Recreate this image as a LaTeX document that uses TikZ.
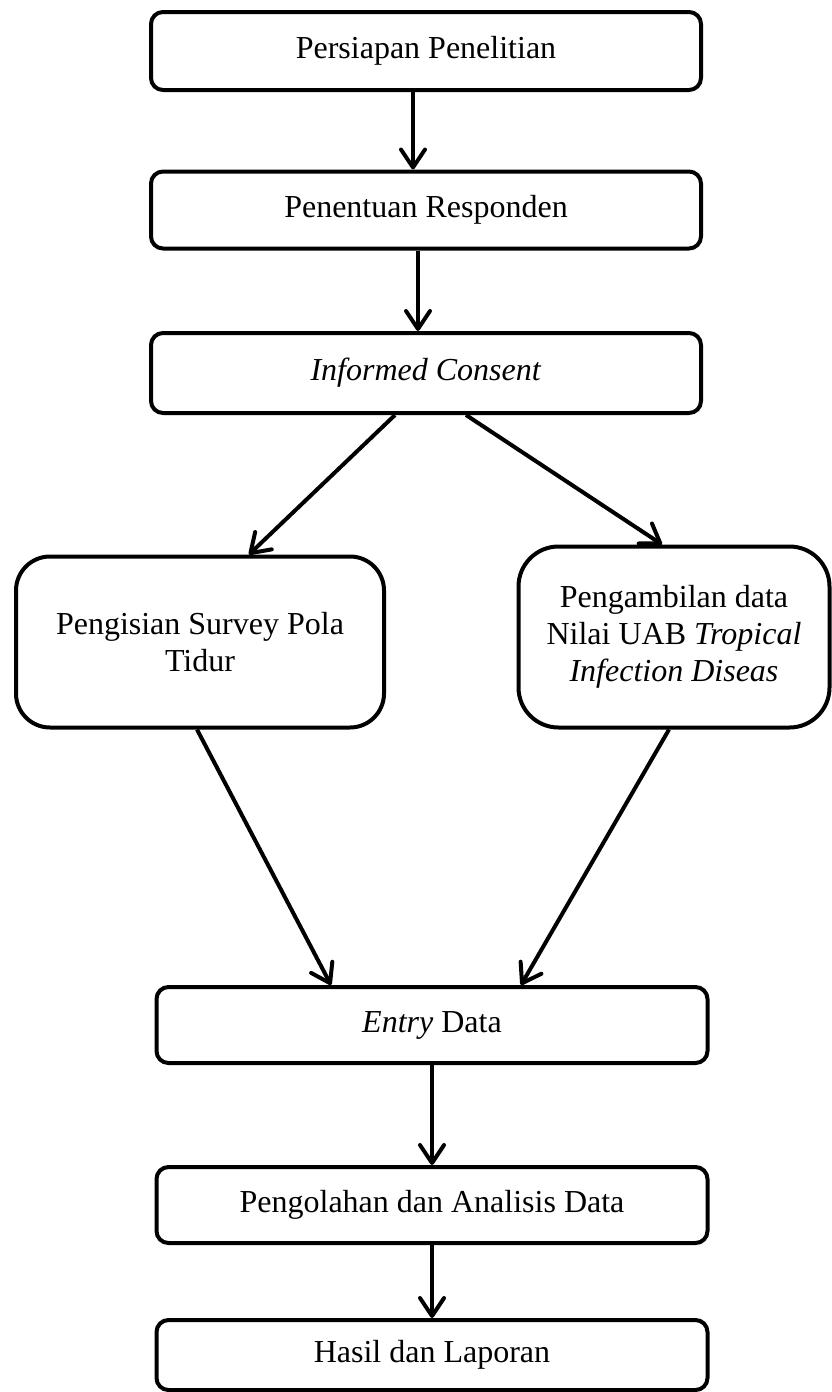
\documentclass[tikz,border=0pt]{standalone}
\usepackage{fontspec}
\setmainfont{Liberation Serif}
\usetikzlibrary{arrows.meta}
\tikzset{
  box/.style={draw=black, line width=2pt, rounded corners=6pt, align=center,
    font=\fontsize{16}{18.5}\selectfont, inner sep=0pt, fill=white},
  bigbox/.style={box, rounded corners=17pt},
  arr/.style={line width=2pt, -{Straight Barb[length=9pt,width=12pt,line cap=round,line join=round]}}
}
\begin{document}
\begin{tikzpicture}[x=0.5pt,y=-0.5pt]
\useasboundingbox[fill=white] (0,0) rectangle (831,1392);
\node[box, minimum width=275pt, minimum height=39pt] (b1) at (426,51) {Persiapan Penelitian};
\node[box, minimum width=275pt, minimum height=38.5pt] (b2) at (426,210) {Penentuan Responden};
\node[box, minimum width=275pt, minimum height=40pt] (b3) at (426,373) {\textit{Informed Consent}};
\node[bigbox, minimum width=184pt, minimum height=85.5pt] (b4) at (200,642) {Pengisian Survey Pola\\Tidur};
\node[bigbox, rounded corners=20pt, minimum width=155.5pt, minimum height=90.5pt] (b5) at (674,637) {Pengambilan data\\Nilai UAB \textit{Tropical}\\\textit{Infection Diseas}};
\node[box, minimum width=275.5pt, minimum height=38pt] (b6) at (432,1025) {\textit{Entry} Data};
\node[box, minimum width=275.5pt, minimum height=38pt] (b7) at (432,1205) {Pengolahan dan Analisis Data};
\node[box, minimum width=275.5pt, minimum height=35pt] (b8) at (432,1355) {Hasil dan Laporan};
\draw[arr] ([xshift=-6.5pt]b1.south) -- ([xshift=-6.5pt]b2.north);
\draw[arr] ([xshift=-4pt]b2.south) -- ([xshift=-4pt]b3.north);
\draw[arr] ([xshift=-15.5pt]b3.south) -- ([xshift=24.5pt]b4.north);
\draw[arr] ([xshift=20pt]b3.south) -- ([xshift=-6pt]b5.north);
\draw[arr] ([xshift=-1.5pt]b4.south) -- ([xshift=-50.5pt]b6.north);
\draw[arr] ([xshift=-2.5pt]b5.south) -- ([xshift=44.5pt]b6.north);
\draw[arr] (b6.south) -- (b7.north);
\draw[arr] (b7.south) -- (b8.north);
\end{tikzpicture}
\end{document}
